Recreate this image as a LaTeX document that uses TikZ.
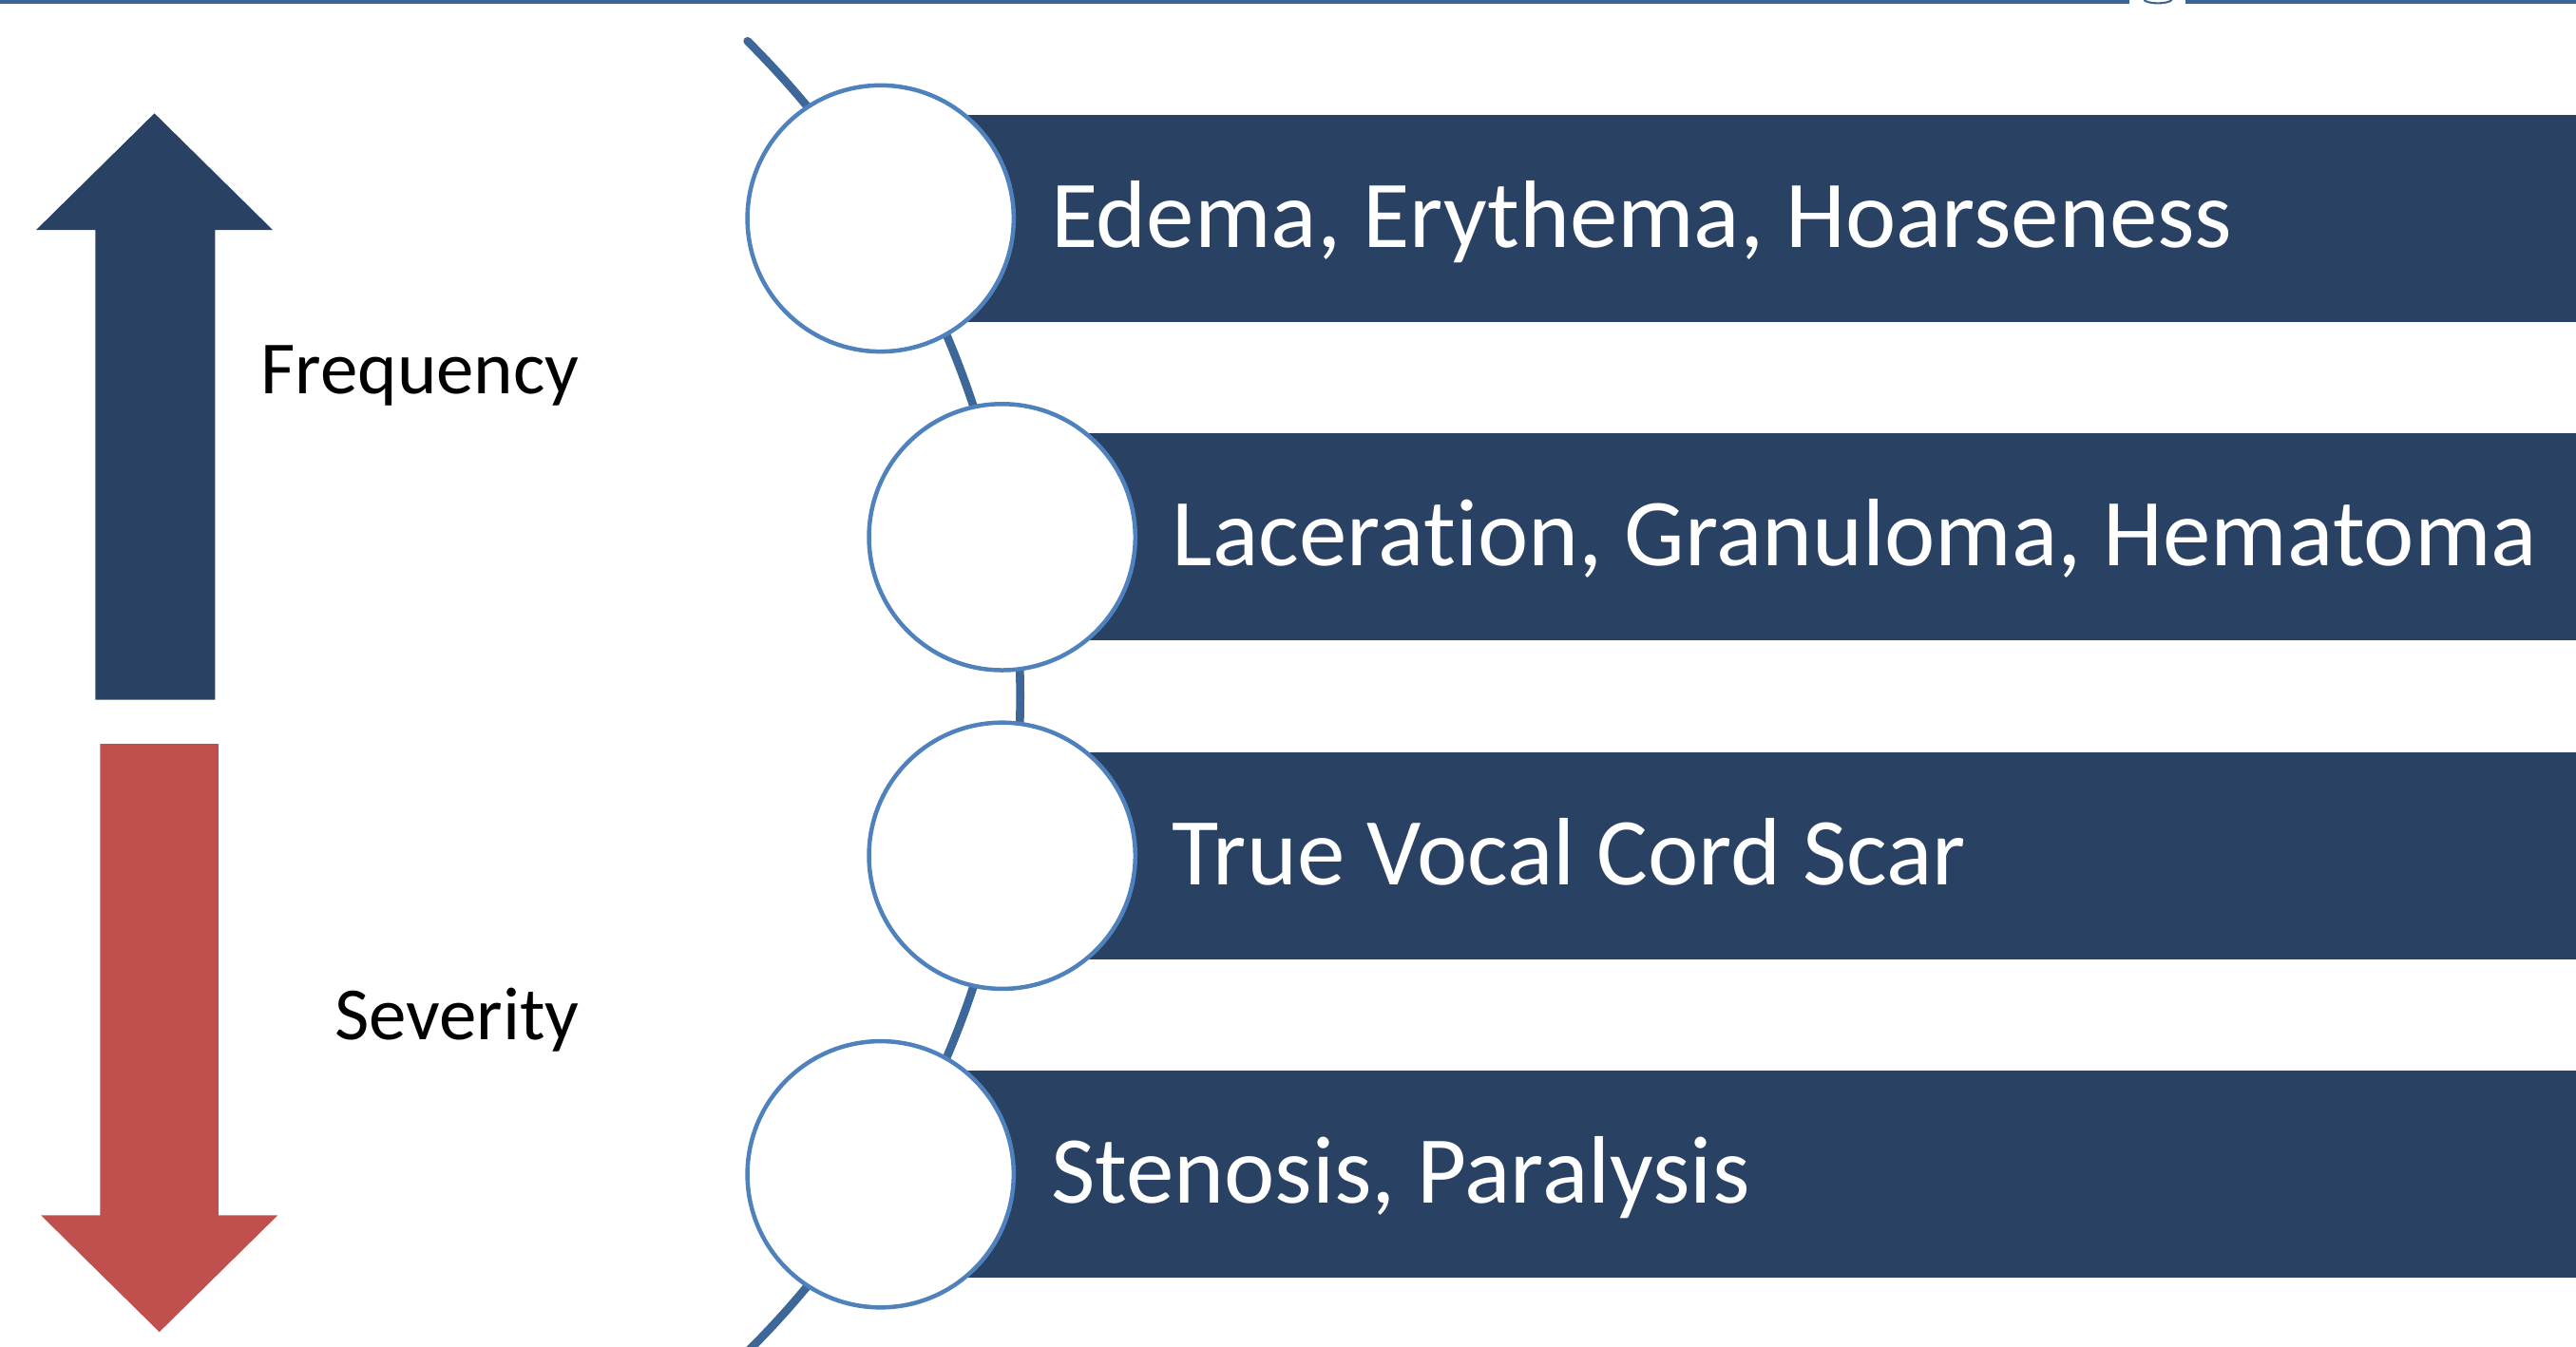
\documentclass[tikz,border=0pt]{standalone}
\usepackage{fontspec}
\setmainfont[Ligatures=NoCommon]{Carlito}
\usepackage{tikz}

\definecolor{barblue}{RGB}{41,65,98}
\definecolor{ringblue}{RGB}{79,129,189}
\definecolor{spineblue}{RGB}{60,103,152}
\definecolor{sevred}{RGB}{192,80,77}
\definecolor{ruleblue}{RGB}{58,99,150}

\begin{document}
\begin{tikzpicture}[x=0.01cm,y=-0.01cm,
    itembar/.style={fill=barblue,minimum height=1.26cm,inner sep=0pt,anchor=west},
    ring/.style={circle,draw=ringblue,line width=0.026cm,fill=white,minimum size=1.62cm,inner sep=0pt},
    itemtext/.style={text=white,font=\fontsize{16.6}{20}\selectfont,inner sep=0pt,anchor=base west},
    sidelabel/.style={font=\fontsize{13}{16}\selectfont,inner sep=0pt,anchor=base west}]

\useasboundingbox (0,0) rectangle (1568,820);
\clip (0,0) rectangle (1568,820);

% Top rule
\draw[ruleblue,line width=0.023cm] (0,1.2) -- (1296,1.2) (1330,1.2) -- (1568,1.2);
\draw[ruleblue,line width=0.012cm] (1305,0) .. controls (1308,2.6) and (1319,2.6) .. (1322,0);

% Frequency / severity arrows
\fill[barblue] (94,69) -- (166,140) -- (131,140) -- (131,426) -- (58,426) -- (58,140) -- (22,140) -- cycle;
\fill[sevred] (97,811) -- (169,740) -- (133,740) -- (133,453) -- (61,453) -- (61,740) -- (25,740) -- cycle;
\node[sidelabel] (freq) at (158,240) {Frequency};
\node[sidelabel] (sev) at (203,633) {Severity};

% Spine
\coordinate (spinetop) at (455,25);
\draw
[
    spineblue,
    line width=0.05cm,
    line cap=round
] (spinetop) arc[start angle=-45.18, end angle=48, radius=562.5];

% Bars
\node[itembar, minimum width=10.34cm] (b1) at (536,133) {};
\node[itembar, minimum width=9.60cm] (b2) at (610,327) {};
\node[itembar, minimum width=9.60cm] (b3) at (610,521) {};
\node[itembar, minimum width=10.34cm] (b4) at (536,715) {};

% Circles
\node[ring] (c1) at (536,133) {};
\node[ring] (c2) at (610,327) {};
\node[ring] (c3) at (610,521) {};
\node[ring] (c4) at (536,715) {};

% Labels
\node[itemtext] (t1) at ([shift={(103,17.5)}]c1.center) {Edema, Erythema, Hoarseness};
\node[itemtext] (t2) at ([shift={(103,17.5)}]c2.center) {Laceration, Granuloma, Hematoma};
\node[itemtext] (t3) at ([shift={(103,17.5)}]c3.center) {True Vocal Cord Scar};
\node[itemtext] (t4) at ([shift={(103,17.5)}]c4.center) {Stenosis, Paralysis};
\end{tikzpicture}
\end{document}
